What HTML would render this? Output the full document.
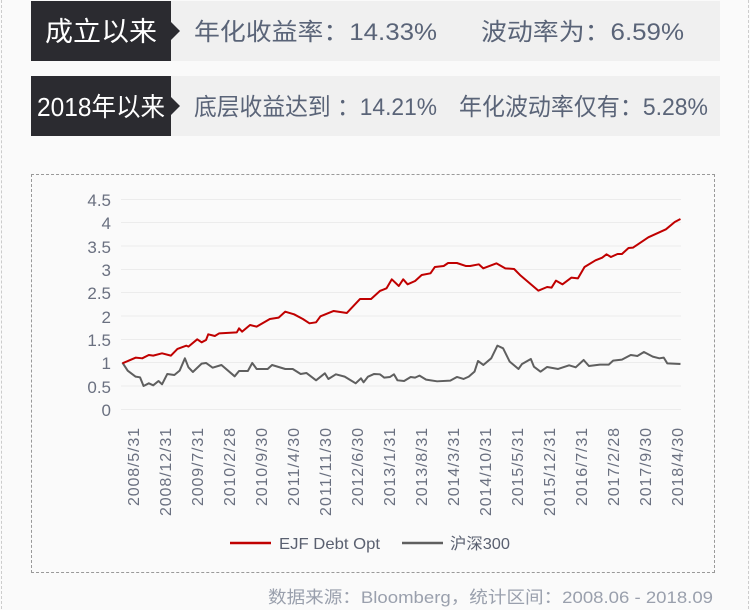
<!DOCTYPE html>
<html><head><meta charset="utf-8"><style>
body{margin:0;width:750px;height:610px;background:#fafafa;position:relative;overflow:hidden;font-family:"Liberation Sans","Noto Sans CJK SC",sans-serif;}
.pg{position:absolute;left:1px;top:0;width:746px;height:609px;border-left:1px dashed #ccc;border-right:1px dashed #ccc;}
.row{position:absolute;left:31px;width:689px;height:60px;background:#f0f0f0;}
.dk{position:absolute;left:0;top:0;width:140px;height:60px;background:#2b2b30;}
.dk:after{content:"";position:absolute;right:-9px;top:21px;border-left:9px solid #2b2b30;border-top:9px solid transparent;border-bottom:9px solid transparent;}
.box{position:absolute;left:31px;top:174px;width:682px;height:397px;border:1px dashed #999;}
</style></head><body>
<div class="pg"></div>
<div class="row" style="top:1px"><div class="dk"></div></div>
<div class="row" style="top:76px"><div class="dk"></div></div>
<div class="box"></div>
<svg width="750" height="610" style="position:absolute;left:0;top:0" font-family="Liberation Sans, Noto Sans CJK SC, sans-serif">
<g font-size="27" fill="#fff">
<text x="45" y="41" textLength="112" lengthAdjust="spacingAndGlyphs">成立以来</text>
<text x="37" y="116" textLength="128" lengthAdjust="spacingAndGlyphs" font-size="26">2018年以来</text>
</g>
<g font-size="24" fill="#5a6478">
<text x="194" y="40" textLength="243" lengthAdjust="spacingAndGlyphs">年化收益率：14.33%</text>
<text x="481" y="40" textLength="203" lengthAdjust="spacingAndGlyphs">波动率为：6.59%</text>
<text x="194" y="115" textLength="243" lengthAdjust="spacingAndGlyphs">底层收益达到 ：14.21%</text>
<text x="459" y="115" textLength="249" lengthAdjust="spacingAndGlyphs">年化波动率仅有：5.28%</text>
</g>
<g stroke="#ececec" stroke-width="1">
<line x1="121" x2="681" y1="199.5" y2="199.5"/><line x1="121" x2="681" y1="222.5" y2="222.5"/><line x1="121" x2="681" y1="246" y2="246"/><line x1="121" x2="681" y1="269.5" y2="269.5"/><line x1="121" x2="681" y1="292.5" y2="292.5"/><line x1="121" x2="681" y1="316" y2="316"/><line x1="121" x2="681" y1="339.5" y2="339.5"/><line x1="121" x2="681" y1="362.5" y2="362.5"/><line x1="121" x2="681" y1="386" y2="386"/><line x1="121" x2="681" y1="409.5" y2="409.5"/>
</g>
<g fill="#6a7080" font-size="17" text-anchor="end">
<text x="111" y="206">4.5</text><text x="111" y="229">4</text><text x="111" y="253">3.5</text><text x="111" y="276">3</text><text x="111" y="299">2.5</text><text x="111" y="323">2</text><text x="111" y="346">1.5</text><text x="111" y="369">1</text><text x="111" y="393">0.5</text><text x="111" y="416">0</text>
</g>
<g transform="translate(30,175) scale(0.4401,0.3333)" fill="none" stroke-width="2" stroke-linejoin="round">
<polyline vector-effect="non-scaling-stroke" stroke="#5f5f5f" points="210,563 222,587 240,605 250,607 258,633 270,625 280,631 292,618 300,628 312,597 328,600 340,587 352,550 360,577 370,591 390,566 400,564 415,578 435,570 465,604 475,588 495,588 505,564 515,582 540,582 550,570 580,582 597,582 615,597 628,594 650,616 670,595 678,612 695,598 715,605 740,625 752,610 758,622 768,605 782,597 795,598 805,608 818,606 827,598 835,616 850,618 865,606 875,608 885,602 900,614 925,619 955,617 970,606 985,612 997,605 1010,590 1018,558 1030,570 1048,550 1062,512 1075,520 1090,560 1110,582 1118,567 1138,552 1145,575 1160,590 1175,576 1200,582 1225,571 1240,577 1258,555 1270,573 1295,569 1315,569 1325,557 1345,554 1365,540 1380,543 1395,531 1415,545 1430,550 1440,548 1448,565 1478,567"/>
<polyline vector-effect="non-scaling-stroke" stroke="#c00000" points="210,565 240,548 255,550 270,540 280,542 300,535 320,542 335,522 355,512 360,515 380,493 390,502 400,495 405,478 420,483 430,475 470,472 475,460 482,470 500,450 515,455 545,432 565,428 580,410 600,418 620,432 635,445 650,442 660,424 690,408 720,414 750,372 775,372 795,348 810,340 822,313 838,333 848,313 858,328 875,318 890,300 910,295 920,276 940,273 950,264 970,264 990,273 1000,273 1020,268 1030,280 1060,265 1080,280 1100,282 1115,302 1140,330 1155,347 1175,336 1185,338 1195,317 1210,328 1230,308 1245,310 1260,276 1285,256 1300,248 1310,238 1320,246 1335,237 1345,237 1360,219 1370,218 1405,187 1445,163 1465,141 1478,132"/>
</g>
<g fill="#6a7080" font-size="16" text-anchor="end" lengthAdjust="spacingAndGlyphs">
<text transform="translate(139,428) rotate(-90)" textLength="78">2008/5/31</text>
<text transform="translate(171,428) rotate(-90)" textLength="88">2008/12/31</text>
<text transform="translate(203,428) rotate(-90)" textLength="78">2009/7/31</text>
<text transform="translate(235,428) rotate(-90)" textLength="78">2010/2/28</text>
<text transform="translate(267,428) rotate(-90)" textLength="78">2010/9/30</text>
<text transform="translate(299,428) rotate(-90)" textLength="78">2011/4/30</text>
<text transform="translate(331,428) rotate(-90)" textLength="88">2011/11/30</text>
<text transform="translate(363,428) rotate(-90)" textLength="78">2012/6/30</text>
<text transform="translate(395,428) rotate(-90)" textLength="78">2013/1/31</text>
<text transform="translate(427,428) rotate(-90)" textLength="78">2013/8/31</text>
<text transform="translate(459,428) rotate(-90)" textLength="78">2014/3/31</text>
<text transform="translate(491,428) rotate(-90)" textLength="88">2014/10/31</text>
<text transform="translate(523,428) rotate(-90)" textLength="78">2015/5/31</text>
<text transform="translate(555,428) rotate(-90)" textLength="88">2015/12/31</text>
<text transform="translate(587,428) rotate(-90)" textLength="78">2016/7/31</text>
<text transform="translate(619,428) rotate(-90)" textLength="78">2017/2/28</text>
<text transform="translate(651,428) rotate(-90)" textLength="78">2017/9/30</text>
<text transform="translate(683,428) rotate(-90)" textLength="78">2018/4/30</text>
</g>
<line x1="230" x2="271" y1="543" y2="543" stroke="#c00000" stroke-width="2.5"/>
<text x="279" y="549" fill="#5a6070" font-size="16" textLength="101" lengthAdjust="spacingAndGlyphs">EJF Debt Opt</text>
<line x1="402" x2="443" y1="543" y2="543" stroke="#5f5f5f" stroke-width="2.5"/>
<text x="450" y="549" fill="#5a6070" font-size="16" textLength="60" lengthAdjust="spacingAndGlyphs">沪深300</text>
<text x="268" y="603" fill="#9aa0ad" font-size="17" textLength="445" lengthAdjust="spacingAndGlyphs">数据来源：Bloomberg，统计区间：2008.06 - 2018.09</text>
</svg>
</body></html>
